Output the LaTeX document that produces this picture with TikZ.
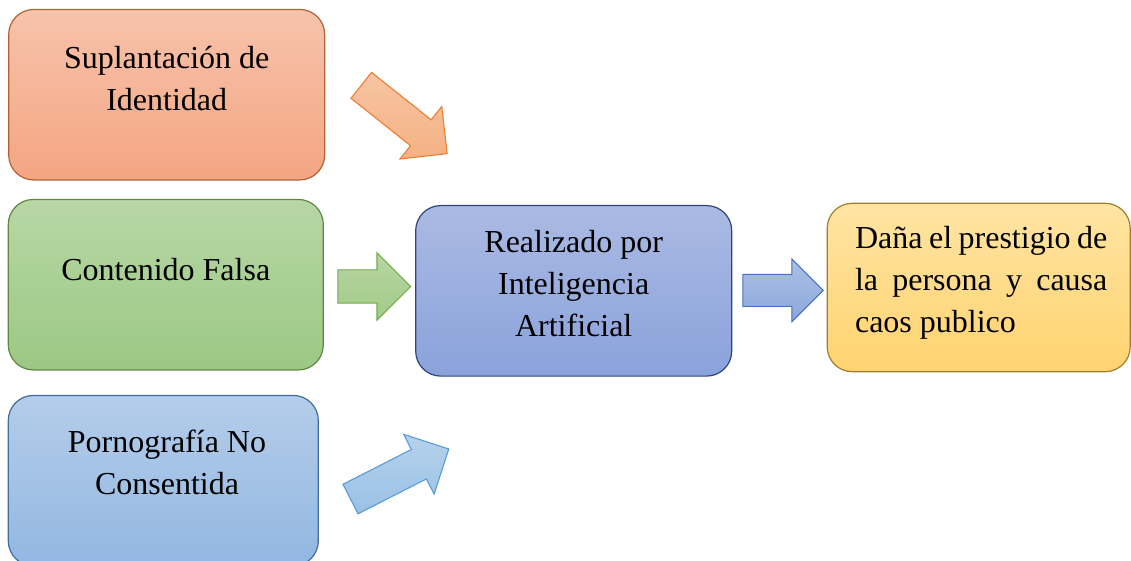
\documentclass[tikz,border=0pt]{standalone}
\usepackage{fontspec}
\setmainfont{Liberation Serif}
\usetikzlibrary{shapes.arrows, positioning}

% box colours
\definecolor{suplTop}{RGB}{247,195,172}
\definecolor{suplBot}{RGB}{244,165,130}
\definecolor{suplLine}{RGB}{178,98,52}
\definecolor{fakeTop}{RGB}{183,215,165}
\definecolor{fakeBot}{RGB}{155,200,132}
\definecolor{fakeLine}{RGB}{98,135,68}
\definecolor{pornTop}{RGB}{180,205,234}
\definecolor{pornBot}{RGB}{146,183,225}
\definecolor{pornLine}{RGB}{66,108,156}
\definecolor{iaTop}{RGB}{171,186,227}
\definecolor{iaBot}{RGB}{138,162,219}
\definecolor{iaLine}{RGB}{47,70,122}
\definecolor{danoTop}{RGB}{255,228,163}
\definecolor{danoBot}{RGB}{255,211,112}
\definecolor{danoLine}{RGB}{160,126,44}
% arrow colours
\definecolor{orArrow}{RGB}{237,125,49}
\definecolor{grArrow}{RGB}{112,173,71}
\definecolor{blArrow}{RGB}{91,155,213}
\definecolor{inArrow}{RGB}{68,114,196}

\tikzset{
  box/.style={draw, line width=1.2pt, rounded corners=25pt, minimum width=316pt,
    minimum height=170.5pt, inner sep=0pt},
  boxtext/.style={align=center, inner sep=0pt, font=\fontsize{32}{42}\selectfont},
  fatarrow/.style={single arrow, draw, line width=1.1pt, anchor=tail,
    inner xsep=0pt, inner ysep=16pt, text height=0pt, text depth=0pt,
    single arrow head extend=17pt}
}

\begin{document}
\begin{tikzpicture}[x=1pt, y=1pt]
\useasboundingbox (0,0) rectangle (1131,560);

% Left column
\node[box, top color=suplTop, bottom color=suplBot, draw=suplLine] (supl) at (166.7,465.3) {};
\node[boxtext] (supltxt) at ([yshift=16pt]supl.center) {Suplantación de\\Identidad};

\node[box, top color=fakeTop, bottom color=fakeBot, draw=fakeLine, minimum width=315pt] (fake) at (165.8,275.3) {};
\node[boxtext] (faketxt) at ([yshift=15pt]fake.center) {Contenido Falsa};

\node[box, top color=pornTop, bottom color=pornBot, draw=pornLine, minimum width=310pt] (porn) at (163.3,79.3) {};
\node[boxtext] (porntxt) at ([xshift=3.7pt, yshift=18pt]porn.center) {Pornografía No\\Consentida};

% Middle
\node[box, top color=iaTop, bottom color=iaBot, draw=iaLine] (ia) at (573.7,269.15) {};
\node[boxtext] (iatxt) at ([yshift=7pt]ia.center) {Realizado por\\Inteligencia\\Artificial};

% Right
\node[box, top color=danoTop, bottom color=danoBot, draw=danoLine, minimum width=303pt, minimum height=168.4pt] (dano) at (978.7,272.5) {};
\node[boxtext, text width=252.3pt, align=justify] (danotxt) at ([xshift=2.5pt, yshift=4.7pt]dano.center)
  {Daña el prestigio de\linebreak la persona y causa\linebreak caos publico};

% Block arrows
\node[fatarrow, top color=orArrow!45, bottom color=orArrow!60, draw=orArrow, minimum height=109.7pt, rotate=-38.5] (arrsupl) at (360.85,475) {};
\node[fatarrow, top color=grArrow!50, bottom color=grArrow!65, draw=grArrow, minimum height=72.7pt] (arrfake) at (337.3,273.5) {};
\node[fatarrow, top color=blArrow!45, bottom color=blArrow!62, draw=blArrow, minimum height=110.3pt, rotate=27] (arrporn) at (350,60.7) {};
\node[fatarrow, top color=inArrow!45, bottom color=inArrow!62, draw=inArrow, minimum height=80.4pt,
  inner ysep=15.4pt, single arrow head extend=15.4pt] (arria) at (742.3,269.65) {};
\end{tikzpicture}
\end{document}
